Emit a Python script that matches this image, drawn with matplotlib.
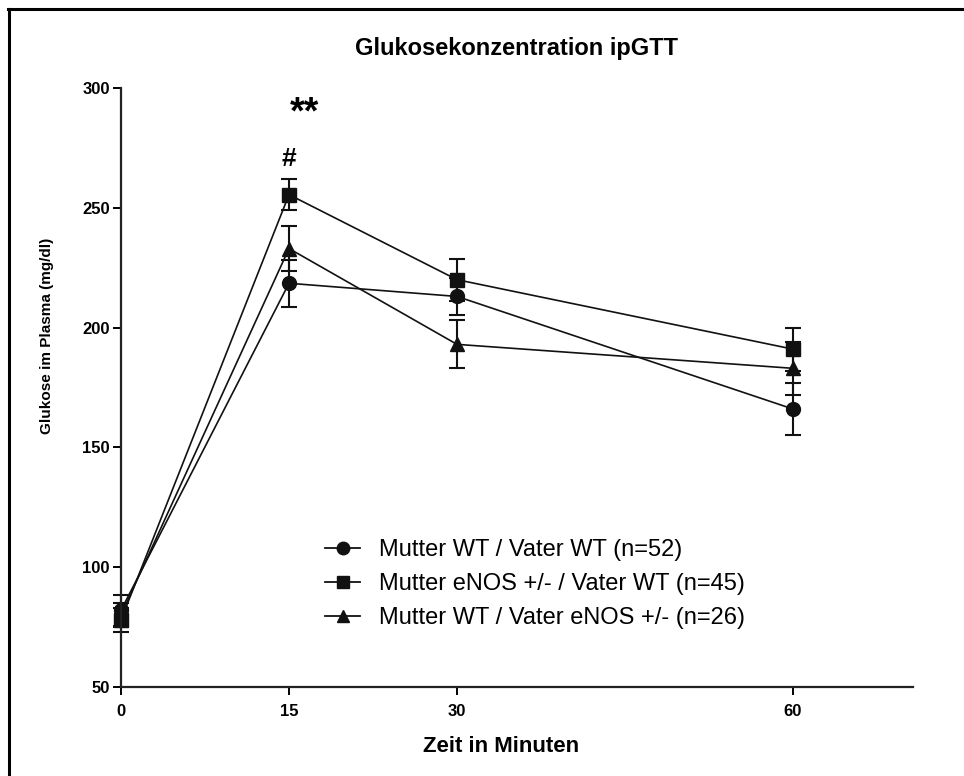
import matplotlib
matplotlib.use("Agg")
import matplotlib.pyplot as plt
from matplotlib.lines import Line2D

plt.rcParams['font.family'] = ['Liberation Sans', 'DejaVu Sans']

# Glucose in plasma (mg/dl) after ip injection, mean +/- SEM
minutes = [0, 15, 30, 60]
wt_wt = [82, 218.5, 213, 166]
wt_wt_sem = [6.5, 9.8, 7.6, 10.8]
enos_wt = [78, 255.5, 220, 191]
enos_wt_sem = [5, 6.5, 8.7, 9]
wt_enos = [80, 233, 193, 183]
wt_enos_sem = [5, 9.4, 10, 11]

labels = ['Mutter WT / Vater WT (n=52)',
          'Mutter eNOS +/- / Vater WT (n=45)',
          'Mutter WT / Vater eNOS +/- (n=26)']

fig = plt.figure(figsize=(9.64, 7.76), dpi=100)
ax = fig.add_axes([0.1255, 0.1147, 0.8215, 0.7719])

series = [(wt_wt, wt_wt_sem, 'o'), (enos_wt, enos_wt_sem, 's'), (wt_enos, wt_enos_sem, '^')]
handles = []
for (vals, sem, mk), lab in zip(series, labels):
    ax.errorbar(minutes, vals, yerr=sem, color='#111111', marker=mk, markersize=10,
                lw=1.2, elinewidth=1.5, capsize=5.5, capthick=1.5, clip_on=False)
    handles.append(Line2D([], [], color='#111111', marker=mk, markersize=9, lw=1.3, label=lab))

ax.set_xlim(0, 70.7)
ax.set_ylim(50, 300)
ax.set_xticks(minutes)
ax.set_yticks([50, 100, 150, 200, 250, 300])
for s in ['top', 'right']:
    ax.spines[s].set_visible(False)
for s in ['left', 'bottom']:
    ax.spines[s].set_linewidth(1.6)
    ax.spines[s].set_color('#222222')
ax.tick_params(direction='out', length=6, width=1.4, labelsize=12)
ax.tick_params(axis='y', pad=2)
ax.tick_params(axis='x', pad=6)
for t in ax.get_xticklabels() + ax.get_yticklabels():
    t.set_fontweight('bold')

ax.set_xlabel('Zeit in Minuten', fontsize=16, fontweight='bold')
ax.xaxis.set_label_coords(0.48, -0.081)
ax.set_ylabel('Glukose im Plasma (mg/dl)', fontsize=11, fontweight='bold')
ax.yaxis.set_label_coords(-0.085, 0.586)
ax.set_title('Glukosekonzentration ipGTT', fontsize=17, fontweight='bold', pad=24)

# significance markers at 15 min
ax.text(16.4, 289.5, '**', fontsize=27, fontweight='bold', ha='center', va='center')
ax.text(15, 270.5, '#', fontsize=19, fontweight='bold', ha='center', va='center')

ax.legend(handles=handles, loc='upper left', bbox_to_anchor=(0.337, 0.305),
          bbox_transform=fig.transFigure, frameon=False, fontsize=17,
          handlelength=1.5, handletextpad=0.8, labelspacing=0.5,
          borderpad=0, borderaxespad=0)

# frame lines along the left and top edge
fig.add_artist(Line2D([9 / 964, 9 / 964], [0, 1 - 9 / 776], color='black', lw=2.2,
                      transform=fig.transFigure))
fig.add_artist(Line2D([8 / 964, 1], [1 - 9 / 776, 1 - 9 / 776], color='black', lw=2.2,
                      transform=fig.transFigure))

fig.savefig('out.png', dpi=100)
